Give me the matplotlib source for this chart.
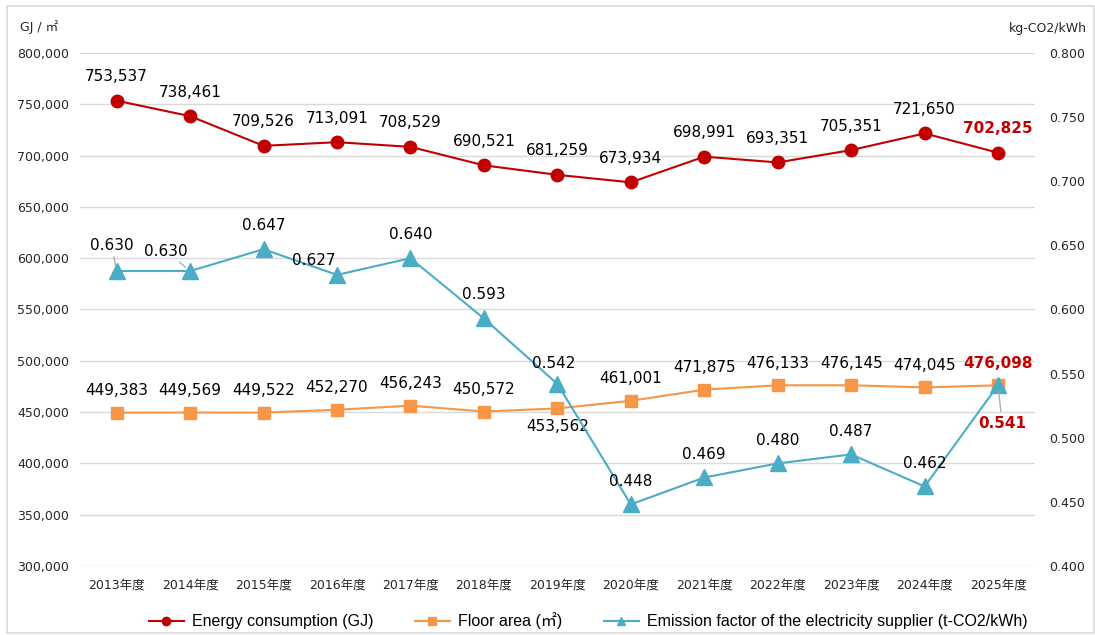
import matplotlib
matplotlib.use('Agg')
import matplotlib.pyplot as plt
from matplotlib.lines import Line2D
from matplotlib.patches import Rectangle

plt.rcParams['font.family'] = ['DejaVu Sans', 'Noto Sans CJK JP']

years = ['2013', '2014', '2015', '2016', '2017', '2018', '2019',
         '2020', '2021', '2022', '2023', '2024', '2025']
energy = [753537, 738461, 709526, 713091, 708529, 690521, 681259,
          673934, 698991, 693351, 705351, 721650, 702825]
floor_area = [449383, 449569, 449522, 452270, 456243, 450572, 453562,
              461001, 471875, 476133, 476145, 474045, 476098]
emission = [0.630, 0.630, 0.647, 0.627, 0.640, 0.593, 0.542,
            0.448, 0.469, 0.480, 0.487, 0.462, 0.541]

RED = '#C00000'
ORANGE = '#F79646'
BLUE = '#4BACC6'
GRID = '#D9D9D9'
TXT = '#262626'

labels = [y + '年度' for y in years]
x = list(range(len(years)))

fig = plt.figure(figsize=(10.95, 6.35), dpi=100)
fig.patches.append(Rectangle((0.006, 0.003), 0.993, 0.987, transform=fig.transFigure,
                             fill=False, edgecolor=GRID, linewidth=1.2))
ax = fig.add_axes([0.073, 0.1087, 0.872, 0.8078])
ax2 = ax.twinx()

ax.set_xlim(-0.5, len(years) - 0.5)
ax.set_ylim(300000, 800000)
ax.set_yticks(range(300000, 800001, 50000))
ax.set_yticklabels(['{:,}'.format(v) for v in range(300000, 800001, 50000)])
ax2.set_ylim(0.4, 0.8)
ax2.set_yticks([0.4 + 0.05 * i for i in range(9)])
ax2.set_yticklabels(['{:.3f}'.format(0.4 + 0.05 * i) for i in range(9)])

ax.grid(axis='y', color=GRID, linewidth=1)
ax.set_axisbelow(True)
for a in (ax, ax2):
    for s in a.spines.values():
        s.set_visible(False)
    a.tick_params(length=0, labelsize=9, colors=TXT)
ax.tick_params(axis='y', pad=8)
ax2.tick_params(axis='y', pad=10)
ax.set_xticks(x)
ax.set_xticklabels(labels, fontsize=9)
ax.tick_params(axis='x', pad=9)

ax.plot(x, energy, color=RED, marker='o', markersize=9, linewidth=1.5, zorder=4)
ax.plot(x, floor_area, color=ORANGE, marker='s', markersize=9, linewidth=1.5, zorder=3)
ax2.plot(x, emission, color=BLUE, marker='^', markersize=11, linewidth=1.5, zorder=3)

# data labels
for i, v in enumerate(energy):
    last = i == len(energy) - 1
    ax.annotate('{:,}'.format(v), (i, v), xytext=(0, 24), textcoords='offset pixels',
                ha='center', va='center', fontsize=11,
                color=RED if last else 'black', fontweight='bold' if last else 'normal')

for i, v in enumerate(floor_area):
    last = i == len(floor_area) - 1
    dy = -18 if i == 6 else 22
    ax.annotate('{:,}'.format(v), (i, v), xytext=(0, dy), textcoords='offset pixels',
                ha='center', va='center', fontsize=11,
                color=RED if last else 'black', fontweight='bold' if last else 'normal')

em_off = [(-5, 26), (-24, 20), (0, 24), (-23, 14), (0, 24), (0, 24), (-4, 20),
          (0, 23), (0, 23), (0, 23), (0, 23), (0, 23), (4, -38)]
leader = {0, 1, 12}
for i, v in enumerate(emission):
    last = i == len(emission) - 1
    arrow = dict(arrowstyle='-', color='#A6A6A6', lw=0.9, shrinkA=1, shrinkB=4) if i in leader else None
    ax2.annotate('{:.3f}'.format(v), (i, v), xytext=em_off[i], textcoords='offset pixels',
                 ha='center', va='center', fontsize=11, arrowprops=arrow,
                 color=RED if last else 'black', fontweight='bold' if last else 'normal')

fig.text(0.018, 0.958, 'GJ / ㎡', fontsize=9, color=TXT, ha='left', va='center')
fig.text(0.993, 0.955, 'kg-CO2/kWh', fontsize=9, color=TXT, ha='right', va='center')

handles = [Line2D([], [], color=RED, marker='o', markersize=6, linewidth=1.5),
           Line2D([], [], color=ORANGE, marker='s', markersize=6, linewidth=1.5),
           Line2D([], [], color=BLUE, marker='^', markersize=6, linewidth=1.5)]
names = ['Energy consumption (GJ)', 'Floor area (㎡)',
         'Emission factor of the electricity supplier (t-CO2/kWh)']
fig.legend(handles, names, loc='center', bbox_to_anchor=(0.537, 0.022), ncol=3,
           frameon=False,
           prop={'size': 11.5, 'family': ['Liberation Sans', 'Noto Sans CJK JP', 'DejaVu Sans']},
           handlelength=2.2, handletextpad=0.5, columnspacing=2.6)

plt.savefig('out.png', dpi=100)
plt.close()
